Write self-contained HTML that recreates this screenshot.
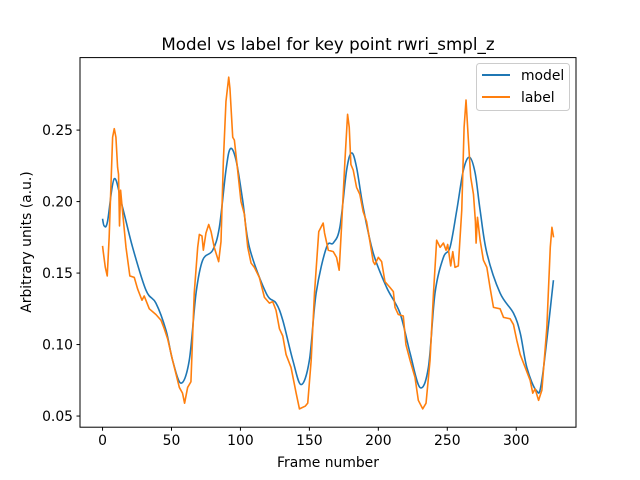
<!DOCTYPE html>
<html><head><meta charset="utf-8"><style>
html,body{margin:0;padding:0;background:#fff;}
svg{display:block;font-family:"DejaVu Sans","Liberation Sans",sans-serif;}
</style></head><body>
<svg id="chart" width="640" height="480" viewBox="0 0 640 480">
<rect x="0" y="0" width="640" height="480" fill="#fff"/>
<text x="328" y="50" text-anchor="middle" font-size="16.7" fill="#000">Model vs label for key point rwri_smpl_z</text>
<text x="328" y="467" text-anchor="middle" font-size="13.9" fill="#000">Frame number</text>
<text transform="translate(31,242) rotate(-90)" text-anchor="middle" font-size="13.9" fill="#000">Arbitrary units (a.u.)</text>
<g id="ticks"></g>
<g id="series"></g>
<rect x="80" y="57.6" width="496" height="369.6" fill="none" stroke="#000" stroke-width="1"/>
<g>
<rect x="476.5" y="63.5" width="93" height="47" rx="3" fill="#fff" fill-opacity="0.8" stroke="#ccc" stroke-width="1"/>
<line x1="482" y1="75" x2="510" y2="75" stroke="#1f77b4" stroke-width="2"/>
<text x="521" y="80" font-size="13.9">model</text>
<line x1="482" y1="97" x2="510" y2="97" stroke="#ff7f0e" stroke-width="2"/>
<text x="521" y="102" font-size="13.9">label</text>
</g>
</svg>
<script>
const xTicks = [0, 50, 100, 150, 200, 250, 300];
const yTicks = [0.05, 0.10, 0.15, 0.20, 0.25];
const yTickLabels = ["0.05", "0.10", "0.15", "0.20", "0.25"];
const modelFrames = [0,1.2,3.6,8.5,14.5,21.8,31.5,38.7,46,50.8,56.9,62.9,67.8,72.6,79.9,84.7,89.5,92.7,96.8,101.6,106.5,118.6,125.8,130.7,138,144,150,154.9,162.4,167.3,172.1,177,180.6,184.2,189,196.3,206,215.7,223,230.2,236.3,241.1,247.2,252,256.9,261.7,266.1,270.2,273.8,278.7,288.3,298,302.9,307.7,314.5,318.6,327];
const modelValues = [0.188,0.183,0.186,0.216,0.196,0.168,0.138,0.129,0.110,0.089,0.073,0.089,0.136,0.159,0.166,0.182,0.222,0.237,0.229,0.201,0.168,0.136,0.129,0.117,0.089,0.072,0.089,0.136,0.168,0.171,0.182,0.222,0.234,0.224,0.196,0.164,0.140,0.122,0.094,0.070,0.084,0.136,0.161,0.168,0.194,0.222,0.231,0.220,0.194,0.164,0.136,0.122,0.108,0.084,0.068,0.075,0.145];
const labelFrames = [0,0.5,2,3.4,4.8,7.3,8.5,9.7,10.9,11.6,12.3,13.1,14.5,17,19.8,23,25.4,28.6,30.2,33.9,38.7,42.4,44.8,47.2,50.8,55.7,58,59.5,61.7,64.1,66.5,69,70.2,72.1,73.1,75,77,78.7,81,84.2,85.9,87.6,89.5,91.5,92.4,94.4,95.6,97.3,100.4,102.9,105.3,107.7,110.1,113.7,117.4,121,123.4,125.8,128.3,130.7,133.1,136.7,140.4,142.8,147.1,148.8,151.3,153.7,156.8,160,161,163.7,167.3,169.7,171.6,173.3,175.8,177.7,178.9,180.1,181.8,184.2,186.6,189,191.5,193.9,196.3,197.5,200,202.4,204.8,208.4,210.9,212.1,214.5,218.1,220,223,226.6,229,232.2,234.6,237.5,240,242.3,244.8,247.2,249.1,250.3,252.5,254,255.6,258,260.5,262.2,263.6,265.3,267,269,270.4,270.9,271.9,273.8,276.2,278.7,281,283.5,288.3,290.8,295.6,298,300.4,302.9,306.5,310.1,312,313.7,316.2,318.6,322.2,324.7,325.9,327.1];
const labelValues = [0.169,0.165,0.154,0.148,0.175,0.245,0.251,0.245,0.224,0.219,0.183,0.208,0.193,0.168,0.148,0.147,0.139,0.131,0.134,0.125,0.121,0.117,0.111,0.104,0.089,0.070,0.066,0.059,0.070,0.074,0.136,0.168,0.177,0.176,0.166,0.178,0.184,0.179,0.168,0.158,0.172,0.228,0.270,0.287,0.279,0.245,0.243,0.228,0.200,0.191,0.168,0.157,0.154,0.147,0.133,0.129,0.130,0.124,0.111,0.106,0.093,0.084,0.066,0.055,0.057,0.059,0.089,0.136,0.179,0.185,0.178,0.166,0.165,0.161,0.152,0.182,0.229,0.261,0.252,0.226,0.222,0.210,0.205,0.193,0.186,0.172,0.158,0.156,0.161,0.158,0.144,0.140,0.137,0.126,0.121,0.120,0.100,0.089,0.077,0.061,0.055,0.059,0.089,0.136,0.173,0.168,0.171,0.166,0.170,0.155,0.165,0.154,0.155,0.194,0.252,0.271,0.243,0.217,0.205,0.186,0.171,0.189,0.173,0.159,0.154,0.140,0.126,0.125,0.119,0.118,0.114,0.103,0.093,0.084,0.075,0.066,0.069,0.061,0.068,0.112,0.168,0.182,0.175];

const NS = "http://www.w3.org/2000/svg";
const X0 = 80, X1 = 576, Y0 = 57.6, Y1 = 427.2;
const xMin = -16.35, xMax = 343.35;
const yMin = 0.0422, yMax = 0.3007;
function xScale(v){ return X0 + (v - xMin) / (xMax - xMin) * (X1 - X0); }
function yScale(v){ return Y1 - (v - yMin) / (yMax - yMin) * (Y1 - Y0); }

const ticks = document.getElementById('ticks');
xTicks.forEach(function(t){
  const x = xScale(t);
  const l = document.createElementNS(NS, 'line');
  l.setAttribute('x1', x); l.setAttribute('x2', x);
  l.setAttribute('y1', Y1); l.setAttribute('y2', Y1 + 3.5);
  l.setAttribute('stroke', '#000');
  
  
  ticks.appendChild(l);
  const tx = document.createElementNS(NS, 'text');
  tx.setAttribute('x', x); tx.setAttribute('y', Y1 + 18);
  tx.setAttribute('text-anchor', 'middle');
  tx.setAttribute('font-size', '13.9');
  tx.textContent = String(t);
  
  
  ticks.appendChild(tx);
});
yTicks.forEach(function(t, i){
  const y = yScale(t);
  const l = document.createElementNS(NS, 'line');
  l.setAttribute('x1', X0 - 3.5); l.setAttribute('x2', X0);
  l.setAttribute('y1', y); l.setAttribute('y2', y);
  l.setAttribute('stroke', '#000');
  
  
  ticks.appendChild(l);
  const tx = document.createElementNS(NS, 'text');
  tx.setAttribute('x', X0 - 7); tx.setAttribute('y', y + 5);
  tx.setAttribute('text-anchor', 'end');
  tx.setAttribute('font-size', '13.9');
  tx.textContent = yTickLabels[i];
  
  
  ticks.appendChild(tx);
});

const series = document.getElementById('series');
function drawLine(frames, values, color, name, smooth){
  const pts = frames.map(function(f, i){ return [xScale(f), yScale(values[i])]; });
  let d = 'M' + pts[0][0].toFixed(2) + ',' + pts[0][1].toFixed(2);
  for (let i = 1; i < pts.length; i++) {
    if (smooth) {
      const p0 = pts[Math.max(0, i - 2)], p1 = pts[i - 1], p2 = pts[i], p3 = pts[Math.min(pts.length - 1, i + 1)];
      const c1x = p1[0] + (p2[0] - p0[0]) / 6, c1y = p1[1] + (p2[1] - p0[1]) / 6;
      const c2x = p2[0] - (p3[0] - p1[0]) / 6, c2y = p2[1] - (p3[1] - p1[1]) / 6;
      d += 'C' + c1x.toFixed(2) + ',' + c1y.toFixed(2) + ' ' + c2x.toFixed(2) + ',' + c2y.toFixed(2) + ' ' + p2[0].toFixed(2) + ',' + p2[1].toFixed(2);
    } else {
      d += 'L' + pts[i][0].toFixed(2) + ',' + pts[i][1].toFixed(2);
    }
  }
  const p = document.createElementNS(NS, 'path');
  p.setAttribute('d', d);
  p.setAttribute('fill', 'none');
  p.setAttribute('stroke', color);
  p.setAttribute('stroke-width', '1.6');
  p.setAttribute('stroke-linejoin', 'round');
  
  
  series.appendChild(p);
}
drawLine(modelFrames, modelValues, '#1f77b4', 'model-line', true);
drawLine(labelFrames, labelValues, '#ff7f0e', 'label-line', false);
</script>
</body></html>
